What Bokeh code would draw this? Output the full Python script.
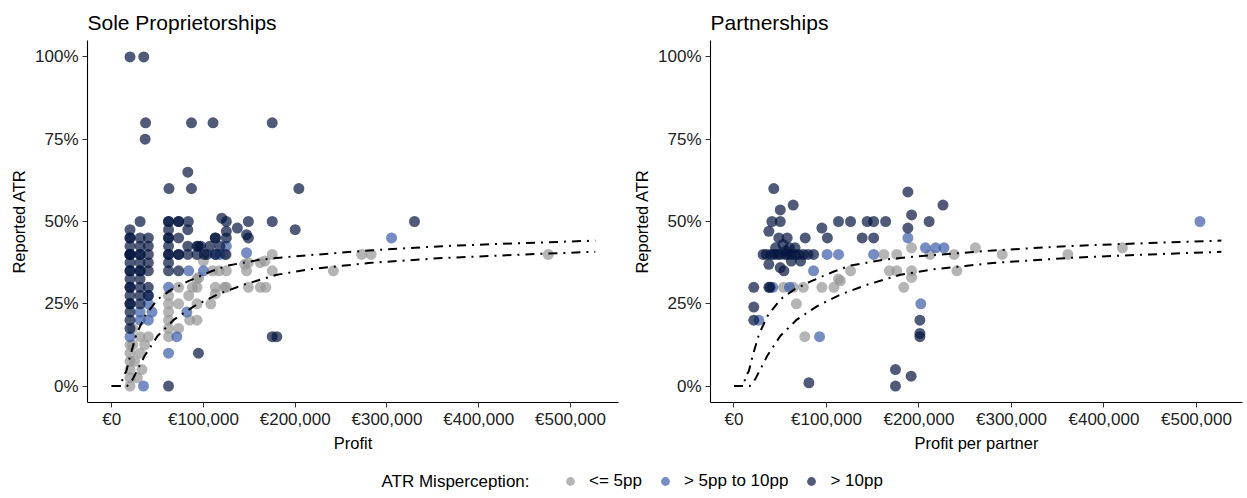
from bokeh.plotting import figure
from bokeh.layouts import row, column
from bokeh.models import Range1d, FixedTicker, Legend, LegendItem, Label
from bokeh.embed import file_html
from bokeh.resources import INLINE

# ---------------- data (profit in EUR, ATR in %) ----------------
# reference ATR curves (same in both panels)
curve_upper_x = [0, 11000, 12000, 16000, 20000, 27000, 36000, 50000, 65000, 83000, 108000,
                 126000, 162000, 198000, 240000, 280000, 360000, 414000, 527000]
curve_upper_y = [0, 0, 2.7, 4.5, 9, 15.7, 21.2, 26.3, 29.3, 31.8, 34.8,
                 36.6, 38.4, 39.4, 40.3, 41.2, 42.5, 43.1, 44.2]
curve_lower_x = [0, 17000, 23000, 36000, 50000, 68000, 90000, 115000, 144000, 180000,
                 216000, 250000, 280000, 360000, 450000, 527000]
curve_lower_y = [0, 0, 2.1, 9.2, 15.2, 20.2, 24.3, 27.8, 30.8, 33.8,
                 35.5, 36.5, 37.4, 38.9, 40.0, 40.8]

# Sole proprietorships
sp_grey = [(20000, 12.5), (20000, 10), (20000, 7.5), (20000, 5), (20000, 2.5), (20000, 0),
           (23000, 17.5), (25000, 7.5), (23000, 12.5), (31000, 15), (40000, 15), (31000, 10),
           (33000, 5), (28000, 2.5), (36000, 12.5),
           (62000, 27.5), (62000, 25), (62000, 22.5), (62000, 20), (62000, 17.5), (62000, 15),
           (73000, 30), (73000, 25), (73000, 17.5), (84000, 27.5), (85000, 20), (93000, 30),
           (93000, 32.5), (93000, 25), (93000, 20), (95000, 33),
           (108000, 25), (113000, 28), (113000, 30), (123000, 30), (110000, 35), (117000, 35),
           (125000, 35), (147000, 35), (145000, 37), (167000, 38), (125000, 40), (175000, 40),
           (149000, 37.5), (162000, 37.5), (149000, 30), (162000, 30), (125000, 30),
           (175000, 35), (168000, 30), (241600, 35), (272500, 40), (282700, 40), (475800, 40),
           (100000, 38), (88000, 30)]
sp_blue = [(20000, 15), (34700, 0), (62000, 10), (62000, 30), (84000, 35), (100000, 35),
           (82000, 22.5), (71000, 15), (31000, 20), (40000, 20), (40000, 25), (44000, 22.5),
           (31000, 22.5), (114000, 40), (118000, 40), (125000, 42.5), (147000, 40.5),
           (305000, 45), (40000, 27.5)]
sp_dark = [(20000, 100), (35000, 100), (37000, 80), (36500, 75), (87000, 80), (110500, 80),
           (175000, 80), (83000, 65), (62500, 60), (87000, 60), (204000, 60),
           (31000, 50), (62000, 50), (62000, 50), (73000, 50), (73000, 50), (83500, 50),
           (120000, 51), (125000, 50), (149000, 50), (175000, 50), (330000, 50),
           (200000, 47.5), (137000, 48), (125000, 47), (125000, 45), (147000, 46),
           (149000, 45), (113000, 45), (113000, 45),
           (20000, 47.5), (20000, 45), (20000, 45), (20000, 42.5), (20000, 40), (20000, 40),
           (20000, 40), (20000, 37.5), (20000, 35), (20000, 35), (20000, 32.5), (20000, 30),
           (20000, 30), (20000, 27.5), (20000, 25), (20000, 25), (20000, 22.5), (20000, 20),
           (20000, 17.5),
           (31000, 45), (31000, 42.5), (31000, 40), (31000, 40), (31000, 37.5), (31000, 35),
           (31000, 35), (31000, 32.5), (31000, 30), (31000, 27.5), (31000, 25),
           (40000, 45), (40000, 42.5), (40000, 40), (40000, 37.5), (40000, 35), (40000, 30),
           (40000, 27.5),
           (62000, 47.5), (62000, 45), (62000, 45), (62000, 42.5), (62000, 40), (62000, 40),
           (62000, 37.5), (62000, 35),
           (73000, 45), (73000, 40), (73000, 40), (73000, 35), (83000, 47.5), (83000, 42.5),
           (83000, 40), (94600, 42.5),
           (93000, 40), (93000, 42.5), (101000, 40), (107000, 42.5), (113000, 40),
           (118000, 42.5), (124000, 40), (104000, 40), (97000, 42.5),
           (94600, 10), (175000, 15), (180000, 15), (62000, 0)]

# Partnerships
pt_grey = [(162000, 40), (176000, 40), (126000, 35), (168000, 35), (176000, 35), (192000, 35),
           (192000, 33), (115000, 32), (192000, 42), (212000, 40), (238000, 40), (241000, 35),
           (261000, 42), (53600, 30), (64000, 30), (75000, 30), (95000, 30), (108000, 30),
           (113000, 32.5), (183600, 30), (67500, 25), (76600, 15), (290000, 40), (361000, 40),
           (420000, 42)]
pt_blue = [(188000, 45), (100700, 40), (113000, 40), (151000, 40), (86000, 35), (42000, 30),
           (60000, 30), (202000, 25), (26800, 20), (92500, 15), (207000, 42), (218000, 42),
           (227000, 42), (503800, 50)]
pt_dark = [(43000, 60), (188000, 59), (64000, 55), (226000, 55), (50000, 53.5), (192000, 52),
           (41000, 50), (50000, 50), (113000, 50), (126000, 50), (144000, 50), (151000, 50),
           (164000, 50), (211000, 50), (95000, 48), (188000, 48), (37700, 47), (48500, 45),
           (57500, 45), (77000, 45), (101000, 45), (138600, 45), (151000, 45),
           (31500, 40), (35000, 40), (40000, 40), (43000, 40), (47000, 40), (50000, 40),
           (55000, 40), (58000, 40), (62000, 40), (66000, 40), (70000, 40), (75000, 40),
           (80000, 40), (86000, 40),
           (45000, 42), (53000, 43), (60000, 42), (66000, 42), (56000, 41), (72000, 38),
           (62000, 38), (37700, 37), (50000, 36), (54000, 35),
           (21400, 30), (37700, 30), (39000, 30), (21400, 24), (21400, 20), (201000, 20),
           (201000, 16), (201000, 15), (174600, 5), (191500, 3), (174600, 0), (81000, 1)]

categories = ["<= 5pp", "> 5pp to 10pp", "> 10pp"]
cat_colors = ["#959595", "#3A5DAA", "#041540"]
legend_title = "ATR Misperception:"

x_ticks = [0, 100000, 200000, 300000, 400000, 500000]
x_tick_labels = ["€0", "€100,000", "€200,000", "€300,000", "€400,000", "€500,000"]
y_ticks = [0, 25, 50, 75, 100]
y_tick_labels = ["0%", "25%", "50%", "75%", "100%"]

FONT = "Liberation Sans"
TOP = 40
FRAME_H = 363
ROW_H = 454
LEG_H = 42


def panel(title, xlabel, xr, width, bl, br, groups):
    p = figure(width=width, height=ROW_H, x_range=Range1d(*xr), y_range=Range1d(-5, 105),
               min_border_left=bl, min_border_right=br, min_border_top=TOP,
               min_border_bottom=ROW_H - TOP - FRAME_H,
               toolbar_location=None, output_backend="svg", title=title)
    p.title.text_font = FONT
    p.title.text_font_size = "21px"
    p.title.text_font_style = "normal"
    p.title.text_color = "#000000"
    p.title.align = "left"
    p.title.standoff = 13
    p.outline_line_color = None
    p.xgrid.visible = False
    p.ygrid.visible = False
    p.background_fill_color = "white"
    p.border_fill_color = "white"

    for pts, col in zip(groups, cat_colors):
        p.scatter([a for a, b in pts], [b for a, b in pts], size=11,
                  fill_color=col, fill_alpha=0.7, line_color=None)

    for cx, cy in ((curve_upper_x, curve_upper_y), (curve_lower_x, curve_lower_y)):
        p.line(cx, cy, line_color="black", line_width=2, line_dash="9 6 2 6")

    for ax in (p.xaxis[0], p.yaxis[0]):
        ax.axis_line_color = "black"
        ax.axis_line_width = 1.1
        ax.major_tick_line_color = "#333333"
        ax.major_tick_in = 0
        ax.major_tick_out = 5
        ax.minor_tick_line_color = None
        ax.major_label_text_font = FONT
        ax.major_label_text_font_size = "17px"
        ax.major_label_text_color = "#222222"
        ax.axis_label_text_font = FONT
        ax.axis_label_text_font_size = "16.5px"
        ax.axis_label_text_font_style = "normal"
        ax.axis_label_text_color = "#000000"

    p.xaxis.ticker = FixedTicker(ticks=x_ticks)
    p.xaxis.major_label_overrides = dict(zip(x_ticks, x_tick_labels))
    p.xaxis.major_label_standoff = 2
    p.xaxis.axis_label = xlabel
    p.xaxis.axis_label_standoff = 2

    p.yaxis.ticker = FixedTicker(ticks=y_ticks)
    p.yaxis.major_label_overrides = dict(zip(y_ticks, y_tick_labels))
    p.yaxis.major_label_standoff = 4
    p.yaxis.axis_label = "Reported ATR"
    p.yaxis.axis_label_standoff = 4
    return p


p1 = panel("Sole Proprietorships", "Profit", (-26300, 552300), 628, 87, 10,
           (sp_grey, sp_blue, sp_dark))
p2 = panel("Partnerships", "Profit per partner", (-25400, 549800), 617, 82, 3,
           (pt_grey, pt_blue, pt_dark))

# legend strip
W = 1245
pl = figure(width=W, height=LEG_H, x_range=Range1d(0, W), y_range=Range1d(0, LEG_H),
            min_border=0, toolbar_location=None, output_backend="svg", title=None,
            x_axis_location=None, y_axis_location=None)
pl.outline_line_color = None
pl.xgrid.visible = False
pl.ygrid.visible = False
items = []
for lab, col in zip(categories, cat_colors):
    r = pl.scatter([float("nan")], [float("nan")], size=9, fill_color=col, fill_alpha=0.7,
                   line_color=None)
    items.append(LegendItem(label=lab, renderers=[r]))
leg = Legend(items=items, orientation="horizontal", location=(559, 4),
             glyph_width=22, glyph_height=22, label_height=22, label_standoff=8,
             spacing=12, padding=0, margin=0, border_line_color=None,
             background_fill_alpha=0, label_text_font=FONT, label_text_font_size="17px",
             label_text_color="#000000")
pl.add_layout(leg)
pl.add_layout(Label(x=381, y=15, x_units="screen", y_units="screen", text=legend_title,
                    text_font=FONT, text_font_size="17px", text_baseline="middle",
                    text_align="left", text_color="#000000"))

layout = column(row(p1, p2), pl)
open("out.html", "w").write(file_html(layout, INLINE))
